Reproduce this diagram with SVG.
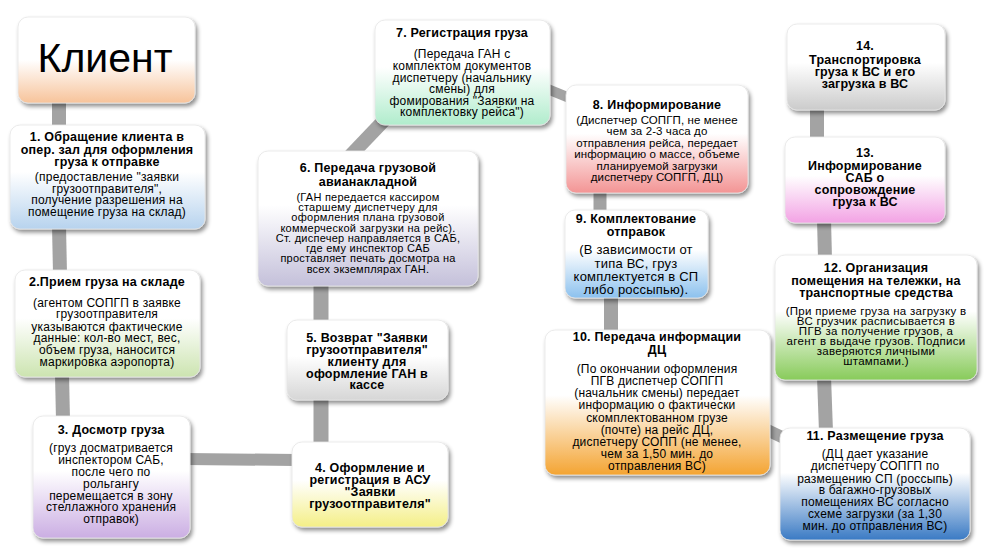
<svg xmlns="http://www.w3.org/2000/svg" width="989" height="550" viewBox="0 0 989 550">
<defs>
<filter id="sh" x="-10%" y="-10%" width="125%" height="130%">
<feDropShadow dx="2" dy="3" stdDeviation="2" flood-color="#000" flood-opacity="0.45"/>
</filter>
<linearGradient id="gClient" x1="0" y1="0" x2="0" y2="1"><stop offset="0" stop-color="#fff"/><stop offset="0.5" stop-color="#fff"/><stop offset="1" stop-color="#f7c39a"/></linearGradient>
<linearGradient id="g1" x1="0" y1="0" x2="0" y2="1"><stop offset="0" stop-color="#fff"/><stop offset="0.45" stop-color="#fff"/><stop offset="1" stop-color="#b7d3ee"/></linearGradient>
<linearGradient id="g2" x1="0" y1="0" x2="0" y2="1"><stop offset="0" stop-color="#fff"/><stop offset="0.45" stop-color="#fff"/><stop offset="1" stop-color="#cce4b0"/></linearGradient>
<linearGradient id="g3" x1="0" y1="0" x2="0" y2="1"><stop offset="0" stop-color="#fff"/><stop offset="0.45" stop-color="#fff"/><stop offset="1" stop-color="#cbaee3"/></linearGradient>
<linearGradient id="g4" x1="0" y1="0" x2="0" y2="1"><stop offset="0" stop-color="#fff"/><stop offset="0.45" stop-color="#fff"/><stop offset="1" stop-color="#f4ef86"/></linearGradient>
<linearGradient id="g5" x1="0" y1="0" x2="0" y2="1"><stop offset="0" stop-color="#fff"/><stop offset="0.45" stop-color="#fff"/><stop offset="1" stop-color="#d6d6d6"/></linearGradient>
<linearGradient id="g6" x1="0" y1="0" x2="0" y2="1"><stop offset="0" stop-color="#fff"/><stop offset="0.4" stop-color="#fff"/><stop offset="1" stop-color="#c4c0da"/></linearGradient>
<linearGradient id="g7" x1="0" y1="0" x2="0" y2="1"><stop offset="0" stop-color="#fff"/><stop offset="0.45" stop-color="#fff"/><stop offset="1" stop-color="#b0eccc"/></linearGradient>
<linearGradient id="g8" x1="0" y1="0" x2="0" y2="1"><stop offset="0" stop-color="#fff"/><stop offset="0.45" stop-color="#fff"/><stop offset="1" stop-color="#f39494"/></linearGradient>
<linearGradient id="g9" x1="0" y1="0" x2="0" y2="1"><stop offset="0" stop-color="#fff"/><stop offset="0.45" stop-color="#fff"/><stop offset="1" stop-color="#8cc1ee"/></linearGradient>
<linearGradient id="g10" x1="0" y1="0" x2="0" y2="1"><stop offset="0" stop-color="#fff"/><stop offset="0.45" stop-color="#fff"/><stop offset="1" stop-color="#f4a432"/></linearGradient>
<linearGradient id="g11" x1="0" y1="0" x2="0" y2="1"><stop offset="0" stop-color="#fff"/><stop offset="0.4" stop-color="#fff"/><stop offset="1" stop-color="#3a7ac4"/></linearGradient>
<linearGradient id="g12" x1="0" y1="0" x2="0" y2="1"><stop offset="0" stop-color="#fff"/><stop offset="0.45" stop-color="#fff"/><stop offset="1" stop-color="#88cb5a"/></linearGradient>
<linearGradient id="g13" x1="0" y1="0" x2="0" y2="1"><stop offset="0" stop-color="#fff"/><stop offset="0.45" stop-color="#fff"/><stop offset="1" stop-color="#f2a2e4"/></linearGradient>
<linearGradient id="g14" x1="0" y1="0" x2="0" y2="1"><stop offset="0" stop-color="#fff"/><stop offset="0.45" stop-color="#fff"/><stop offset="1" stop-color="#cbcbcb"/></linearGradient>
</defs>
<style>
.box{stroke:#e6e6e6;stroke-width:0.8;filter:url(#sh)}
text{font-family:"Liberation Sans",Arial,sans-serif;fill:#000;text-anchor:middle}
.t{font-weight:bold;font-size:12.5px;letter-spacing:0.2px}
.b{font-size:12px;letter-spacing:0.2px}
.s{font-size:11px;letter-spacing:0.25px}
.m{font-size:11.5px;letter-spacing:0.1px}
.bar{stroke:#a3a3a3;stroke-linecap:butt;fill:none}
</style>
<rect width="989" height="550" fill="#fff"/>
<g id="connectors">
<line class="bar" x1="59" y1="100" x2="59" y2="130" stroke-width="14"/>
<line class="bar" x1="59" y1="225" x2="60" y2="274" stroke-width="14"/>
<line class="bar" x1="62" y1="374" x2="63" y2="420" stroke-width="14"/>
<line class="bar" x1="186" y1="459" x2="296" y2="460" stroke-width="12"/>
<line class="bar" x1="321" y1="395" x2="321" y2="446" stroke-width="15"/>
<line class="bar" x1="321" y1="283" x2="321" y2="324" stroke-width="15"/>
<line class="bar" x1="350" y1="156" x2="392" y2="112" stroke-width="14"/>
<line class="bar" x1="545" y1="88" x2="572" y2="99" stroke-width="10"/>
<line class="bar" x1="600" y1="190" x2="600" y2="214" stroke-width="13"/>
<line class="bar" x1="611" y1="295" x2="611" y2="334" stroke-width="14"/>
<line class="bar" x1="765" y1="429" x2="786" y2="439" stroke-width="12"/>
<line class="bar" x1="824" y1="376" x2="826" y2="432" stroke-width="14"/>
<line class="bar" x1="824" y1="219" x2="825" y2="259" stroke-width="14"/>
<line class="bar" x1="817" y1="106" x2="817" y2="141" stroke-width="14"/>
</g>
<g id="client">
<rect class="box" x="18" y="17" width="177" height="86" rx="10" fill="url(#gClient)"/>
<text x="105" y="72" style="font-size:41px">Клиент</text>
</g>
<g id="n1">
<rect class="box" x="10" y="125" width="195" height="104" rx="10" fill="url(#g1)"/>
<text class="t" x="107" y="141">1. Обращение клиента в</text>
<text class="t" x="107" y="154">опер. зал для оформления</text>
<text class="t" x="107" y="166">груза к отправке</text>
<text class="b" x="107" y="181">(предоставление "заявки</text>
<text class="b" x="107" y="193">грузоотправителя",</text>
<text class="b" x="107" y="204">получение разрешения на</text>
<text class="b" x="107" y="216">помещение груза на склад)</text>
</g>
<g id="n2">
<rect class="box" x="15" y="270" width="185" height="107" rx="10" fill="url(#g2)"/>
<text class="t" x="107" y="286">2.Прием груза на складе</text>
<text class="b" x="107" y="307">(агентом СОПГП в заявке</text>
<text class="b" x="107" y="318">грузоотправителя</text>
<text class="b" x="107" y="331">указываются фактические</text>
<text class="b" x="107" y="342">данные: кол-во мест, вес,</text>
<text class="b" x="107" y="354">объем груза, наносится</text>
<text class="b" x="107" y="366">маркировка аэропорта)</text>
</g>
<g id="n3">
<rect class="box" x="33" y="416" width="157" height="122" rx="10" fill="url(#g3)"/>
<text class="t" x="111" y="434">3. Досмотр груза</text>
<text class="b" x="111" y="452">(груз досматривается</text>
<text class="b" x="111" y="464">инспектором САБ,</text>
<text class="b" x="111" y="476">после чего по</text>
<text class="b" x="111" y="488">рольгангу</text>
<text class="b" x="111" y="500">перемещается в зону</text>
<text class="b" x="111" y="511">стеллажного хранения</text>
<text class="b" x="111" y="523">отправок)</text>
</g>
<g id="n4">
<rect class="box" x="292" y="442" width="156" height="85" rx="10" fill="url(#g4)"/>
<text class="t" x="370" y="472">4. Оформление и</text>
<text class="t" x="370" y="484">регистрация в АСУ</text>
<text class="t" x="370" y="496">"Заявки</text>
<text class="t" x="370" y="508">грузоотправителя"</text>
</g>
<g id="n5">
<rect class="box" x="287" y="320" width="161" height="80" rx="10" fill="url(#g5)"/>
<text class="t" x="367" y="342">5. Возврат "Заявки</text>
<text class="t" x="367" y="354">грузоотправителя"</text>
<text class="t" x="367" y="366">клиенту для</text>
<text class="t" x="367" y="378">оформление ГАН в</text>
<text class="t" x="367" y="389">кассе</text>
</g>
<g id="n6">
<rect class="box" x="258" y="151" width="220" height="135" rx="10" fill="url(#g6)"/>
<text class="t" x="368" y="172">6. Передача грузовой</text>
<text class="t" x="368" y="186">авианакладной</text>
<text class="s" x="368" y="201">(ГАН передается кассиром</text>
<text class="s" x="368" y="211">старшему диспетчеру для</text>
<text class="s" x="368" y="221">оформления плана  грузовой</text>
<text class="s" x="368" y="232">коммерческой загрузки на рейс).</text>
<text class="s" x="368" y="242">Ст. диспечер направляется в САБ,</text>
<text class="s" x="368" y="252">где ему инспектор САБ</text>
<text class="s" x="368" y="262">проставляет печать досмотра на</text>
<text class="s" x="368" y="273">всех экземплярах ГАН.</text>
</g>
<g id="n7">
<rect class="box" x="375" y="20" width="175" height="105" rx="10" fill="url(#g7)"/>
<text class="t" x="462" y="37">7. Регистрация груза</text>
<text class="b" x="462" y="58">(Передача ГАН с</text>
<text class="b" x="462" y="70">комплектом документов</text>
<text class="b" x="462" y="82">диспетчеру (начальнику</text>
<text class="b" x="462" y="93">смены) для</text>
<text class="b" x="462" y="105">фомирования "Заявки на</text>
<text class="b" x="462" y="116">комплектовку рейса")</text>
</g>
<g id="n8">
<rect class="box" x="566" y="85" width="182" height="108" rx="10" fill="url(#g8)"/>
<text class="t" x="657" y="109">8. Информирование</text>
<text class="m" x="657" y="124">(Диспетчер СОПГП, не менее</text>
<text class="m" x="657" y="135">чем за 2-3 часа до</text>
<text class="m" x="657" y="147">отправления рейса, передает</text>
<text class="m" x="657" y="158">информацию о массе, объеме</text>
<text class="m" x="657" y="170">планируемой загрузки</text>
<text class="m" x="657" y="181">диспетчеру СОПГП, ДЦ)</text>
</g>
<g id="n9">
<rect class="box" x="565" y="210" width="143" height="88" rx="10" fill="url(#g9)"/>
<text class="t" x="636" y="223">9. Комплектование</text>
<text class="t" x="636" y="236">отправок</text>
<text class="b" x="636" y="254" style="font-size:13px">(В зависимости от</text>
<text class="b" x="636" y="268" style="font-size:13px">типа ВС, груз</text>
<text class="b" x="636" y="281" style="font-size:13px">комплектуется в СП</text>
<text class="b" x="636" y="294" style="font-size:13px">либо россыпью).</text>
</g>
<g id="n10">
<rect class="box" x="545" y="330" width="225" height="145" rx="10" fill="url(#g10)"/>
<text class="t" x="657" y="341">10. Передача информации</text>
<text class="t" x="657" y="354">ДЦ</text>
<text class="b" x="657" y="373">(По окончании оформления</text>
<text class="b" x="657" y="385">ПГВ диспетчер СОПГП</text>
<text class="b" x="657" y="397">(начальник смены) передает</text>
<text class="b" x="657" y="409">информацию о фактически</text>
<text class="b" x="657" y="422">скомплектованном грузе</text>
<text class="b" x="657" y="434">(почте) на рейс ДЦ,</text>
<text class="b" x="657" y="446">диспетчеру СОПП (не менее,</text>
<text class="b" x="657" y="458">чем за 1,50 мин. до</text>
<text class="b" x="657" y="470">отправления ВС)</text>
</g>
<g id="n11">
<rect class="box" x="780" y="428" width="190" height="112" rx="10" fill="url(#g11)"/>
<text class="t" x="875" y="440">11. Размещение груза</text>
<text class="b" x="875" y="458">(ДЦ дает указание</text>
<text class="b" x="875" y="470">диспетчеру СОПГП по</text>
<text class="b" x="875" y="483">размещению СП (россыпь)</text>
<text class="b" x="875" y="494">в багажно-грузовых</text>
<text class="b" x="875" y="506">помещениях ВС согласно</text>
<text class="b" x="875" y="518">схеме загрузки (за 1,30</text>
<text class="b" x="875" y="530">мин. до отправления ВС)</text>
</g>
<g id="n12">
<rect class="box" x="775" y="255" width="202" height="125" rx="10" fill="url(#g12)"/>
<text class="t" x="876" y="272">12. Организация</text>
<text class="t" x="876" y="285">помещения на тележки, на</text>
<text class="t" x="876" y="297">транспортные  средства</text>
<text class="m" x="876" y="315" style="letter-spacing:0.3px">(При приеме груза на загрузку в</text>
<text class="m" x="876" y="325" style="letter-spacing:0.3px">ВС грузчик расписывается в</text>
<text class="m" x="876" y="335" style="letter-spacing:0.3px">ПГВ за получение грузов, а</text>
<text class="m" x="876" y="345" style="letter-spacing:0.3px">агент в выдаче грузов. Подписи</text>
<text class="m" x="876" y="355" style="letter-spacing:0.3px">заверяются личными</text>
<text class="m" x="876" y="365" style="letter-spacing:0.3px">штампами.)</text>
</g>
<g id="n13">
<rect class="box" x="785" y="137" width="160" height="86" rx="10" fill="url(#g13)"/>
<text class="t" x="865" y="157">13.</text>
<text class="t" x="865" y="170">Информирование</text>
<text class="t" x="865" y="182">САБ о</text>
<text class="t" x="865" y="194">сопровождение</text>
<text class="t" x="865" y="206">груза к ВС</text>
</g>
<g id="n14">
<rect class="box" x="787" y="24" width="158" height="86" rx="10" fill="url(#g14)"/>
<text class="t" x="865" y="50">14.</text>
<text class="t" x="865" y="64">Транспортировка</text>
<text class="t" x="865" y="76">груза к ВС и его</text>
<text class="t" x="865" y="88">загрузка в ВС</text>
</g>
</svg>
